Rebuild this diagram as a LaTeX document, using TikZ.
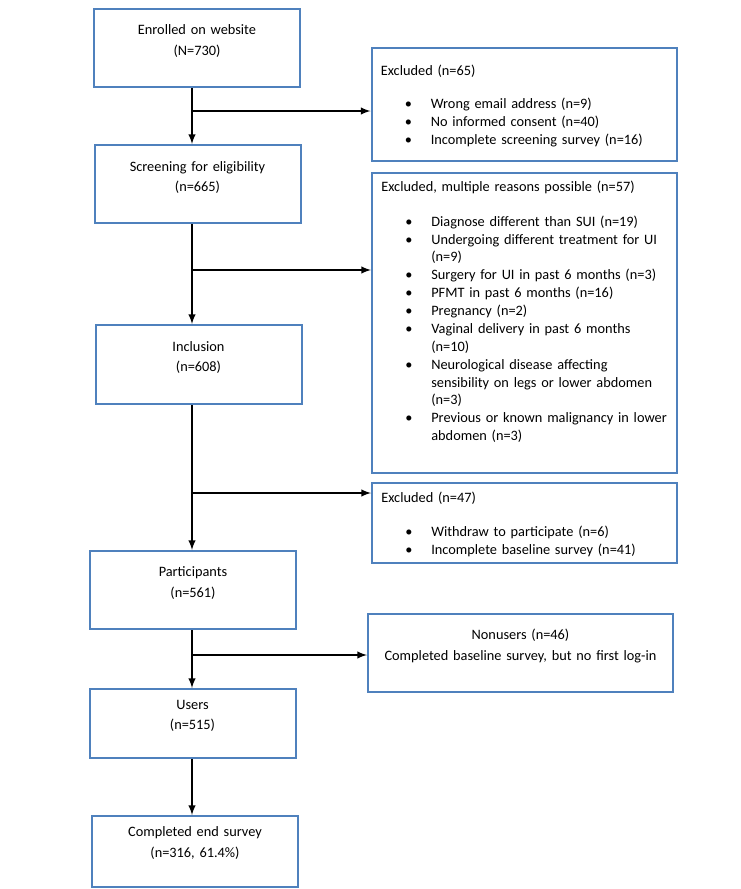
\documentclass[tikz,border=0pt]{standalone}
\usepackage{tikz}
\usepackage{fontspec}
\setmainfont{Carlito}
\definecolor{boxblue}{HTML}{4F81BD}
\newcommand{\bul}[1]{\par\hangindent=37.5pt\hangafter=1\noindent\makebox[37.5pt][l]{\hspace{18pt}\textbullet}#1\par}

\begin{document}
\begin{tikzpicture}
    \def\dx{0.75pt}
    \def\dy{0.75pt}

    \useasboundingbox (0,0) rectangle (741*\dx,-889*\dy);

    \tikzstyle{stage}=[draw=boxblue,line width=1.5pt,text width=154.5pt,inner xsep=0pt,inner ysep=0pt,align=center,font={\fontsize{10.75}{15.5}\selectfont}]
    \tikzstyle{excl}=[draw=boxblue,line width=1.5pt,text width=214.75pt,inner xsep=7pt,inner ysep=0pt,align=left,font={\fontsize{10.75}{13.4}\selectfont}]

    \node[stage,text height=19.1pt,text depth=39.4pt]  (enrolled) at (197*\dx,-48*\dy) {Enrolled on website\\(N=730)};
    \node[stage,text height=19.5pt,text depth=39pt]  (screening) at (197.5*\dx,-184*\dy) {Screening for eligibility\\(n=665)};
    \node[stage,text height=19.5pt,text depth=39.75pt]  (inclusion) at (198.5*\dx,-364.5*\dy) {Inclusion\\(n=608)};
    \node[stage,text height=19.3pt,text depth=39.2pt]  (participants) at (193*\dx,-590*\dy) {Participants\\(n=561)};
    \node[stage,text height=15.2pt,text depth=36.5pt]  (users) at (192.5*\dx,-723.5*\dy) {Users\\(n=515)};
    \node[stage,text height=15.5pt,text depth=37.7pt]  (endsurvey) at (195*\dx,-851.5*\dy) {Completed end survey\\(n=316, 61.4\%)};

    \node[excl,text height=20.25pt,text depth=64.5pt]  (exclA) at (524*\dx,-104.5*\dy) {Excluded (n=65)\\[12pt]
        \bul{Wrong email address (n=9)}
        \bul{No informed consent (n=40)}
        \bul{Incomplete screening survey (n=16)}};
    \node[excl,text height=14pt,text depth=211pt]  (exclB) at (524.5*\dx,-323*\dy) {Excluded, multiple reasons possible (n=57)\\[12.5pt]
        \bul{Diagnose different than SUI (n=19)}
        \bul{Undergoing different treatment for UI\newline(n=9)}
        \bul{Surgery for UI in past 6 months (n=3)}
        \bul{PFMT in past 6 months (n=16)}
        \bul{Pregnancy (n=2)}
        \bul{Vaginal delivery in past 6 months\newline(n=10)}
        \bul{Neurological disease affecting\newline sensibility on legs or lower abdomen\newline(n=3)}
        \bul{Previous or known malignancy in lower\newline abdomen (n=3)}};
    \node[excl,text height=14.8pt,text depth=45.2pt]  (exclC) at (524.5*\dx,-523*\dy) {Excluded (n=47)\\[12pt]
        \bul{Withdraw to participate (n=6)}
        \bul{Incomplete baseline survey (n=41)}};
    \node[stage,text width=228.75pt,text height=19pt,text depth=39.5pt]  (nonusers) at (520.5*\dx,-653*\dy) {Nonusers (n=46)\\Completed baseline survey, but no first log-in};

    \coordinate (j1) at (192*\dx,-111*\dy);
    \coordinate (j2) at (192*\dx,-270*\dy);
    \coordinate (j3) at (192*\dx,-493*\dy);
    \coordinate (j4) at (192*\dx,-655*\dy);

    \pgfsetarrowsend{latex}
    \tikzstyle{fwd} = [draw=black, line width=1.5pt]

          \draw [fwd] (j1 |- enrolled.south) -- (j1 |- screening.north);
          \draw [fwd] (j1 |- screening.south) -- (j1 |- inclusion.north);
          \draw [fwd] (j1 |- inclusion.south) -- (j1 |- participants.north);
          \draw [fwd] (j1 |- participants.south) -- (j1 |- users.north);
          \draw [fwd] (j1 |- users.south) -- (j1 |- endsurvey.north);
          \draw [fwd] (j1) -- (j1 -| exclA.west);
          \draw [fwd] (j2) -- (j2 -| exclB.west);
          \draw [fwd] (j3) -- (j3 -| exclC.west);
          \draw [fwd] (j4) -- (j4 -| nonusers.west);
\end{tikzpicture}
\end{document}
